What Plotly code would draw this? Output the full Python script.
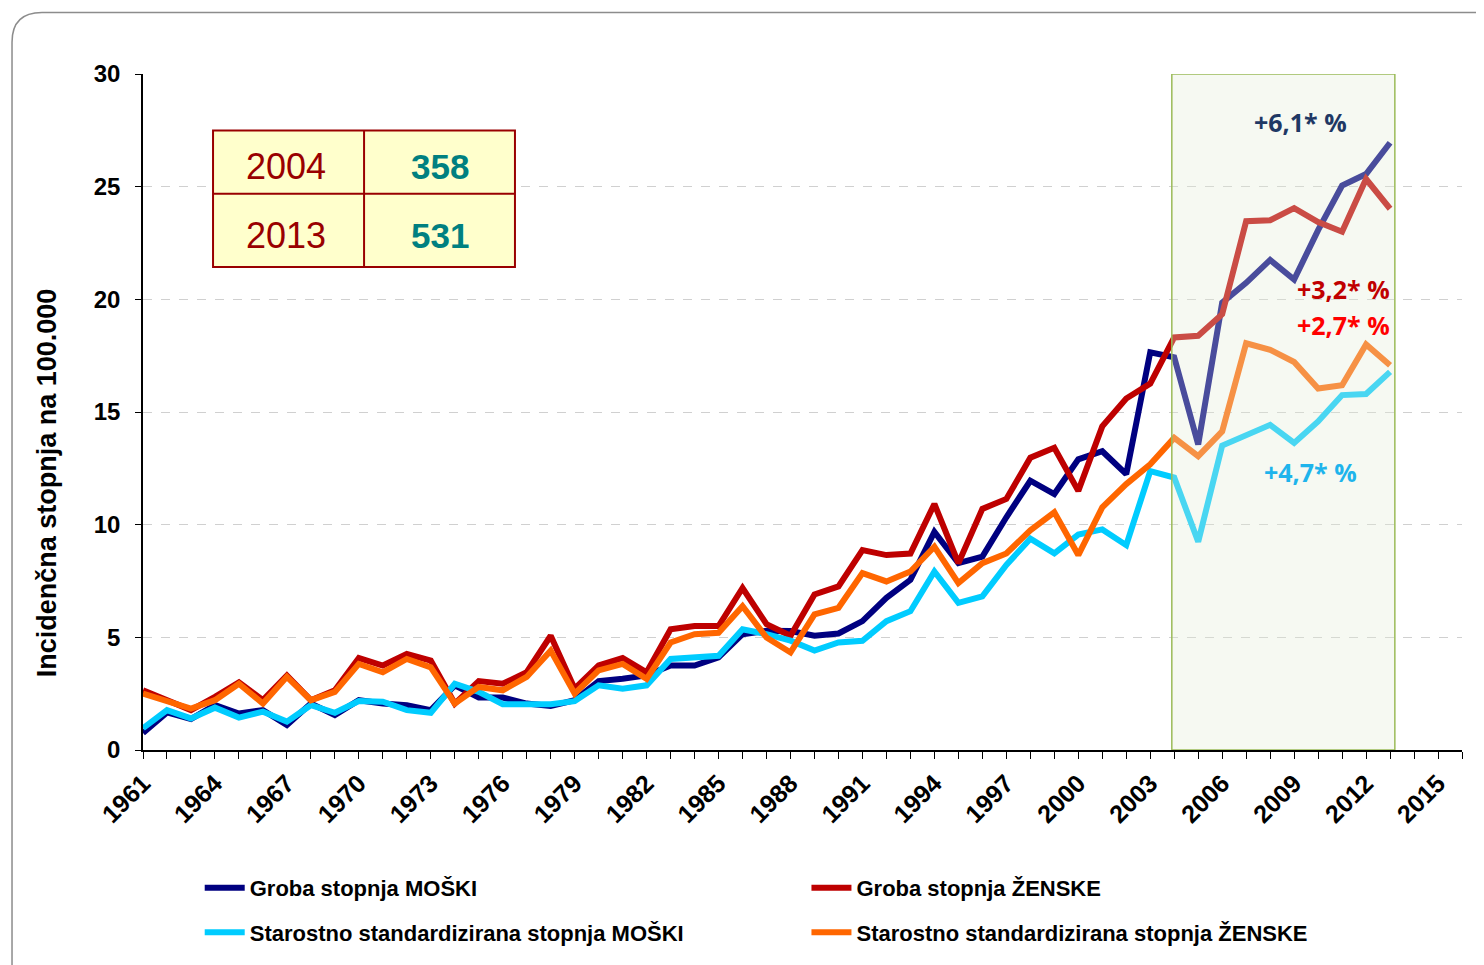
import plotly.graph_objects as go

# years 1961-2013
years = list(range(1961, 2014))

# Groba stopnja MOŠKI
crude_men = [0.75, 1.67, 1.37, 1.99, 1.62, 1.77, 1.11, 2.06, 1.55, 2.21, 2.06, 1.99, 1.77,
             2.87, 2.33, 2.33, 2.06, 1.95, 2.21, 3.06, 3.16, 3.31, 3.75, 3.75, 4.11, 5.14,
             5.29, 5.28, 5.07, 5.17, 5.72, 6.75, 7.55, 9.68, 8.29, 8.58, 10.33, 11.95, 11.36,
             12.9, 13.26, 12.24, 17.65, 17.43, 13.56, 19.85, 20.73, 21.75, 20.88, 23.07,
             25.05, 25.56, 26.95]
# Groba stopnja ŽENSKE
crude_women = [2.65, 2.21, 1.77, 2.36, 3.0, 2.21, 3.3, 2.21, 2.65, 4.08, 3.75, 4.26, 3.97,
               2.06, 3.06, 2.94, 3.45, 5.07, 2.72, 3.75, 4.08, 3.45, 5.36, 5.5, 5.5, 7.19,
               5.58, 5.07, 6.9, 7.26, 8.87, 8.65, 8.72, 10.92, 8.29, 10.7, 11.14, 12.97, 13.41,
               11.5, 14.36, 15.6, 16.26, 18.31, 18.38, 19.34, 23.47, 23.51, 24.05, 23.43,
               23.0, 25.34, 24.02]
# Starostno standardizirana stopnja MOŠKI
std_men = [0.97, 1.77, 1.4, 1.88, 1.44, 1.7, 1.26, 1.99, 1.65, 2.17, 2.14, 1.77, 1.65,
           2.94, 2.58, 2.03, 2.03, 2.03, 2.17, 2.87, 2.72, 2.87, 4.04, 4.11, 4.18, 5.36,
           5.14, 4.85, 4.41, 4.77, 4.85, 5.72, 6.16, 7.92, 6.53, 6.82, 8.21, 9.38, 8.73,
           9.56, 9.79, 9.09, 12.38, 12.09, 9.24, 13.51, 14.0, 14.43, 13.63, 14.58,
           15.75, 15.8, 16.78]
# Starostno standardizirana stopnja ŽENSKE
std_women = [2.5, 2.14, 1.84, 2.21, 2.94, 2.06, 3.25, 2.21, 2.58, 3.82, 3.45, 4.04, 3.67,
             2.06, 2.8, 2.65, 3.24, 4.41, 2.5, 3.53, 3.82, 3.16, 4.77, 5.14, 5.2, 6.38,
             4.99, 4.33, 6.02, 6.31, 7.85, 7.48, 7.92, 9.02, 7.41, 8.29, 8.72, 9.75, 10.55,
             8.65, 10.77, 11.8, 12.68, 13.85, 13.04, 14.14, 18.05, 17.76, 17.22, 16.04,
             16.19, 18.0, 17.07]

series_names = ["Groba stopnja MOŠKI", "Groba stopnja ŽENSKE",
                "Starostno standardizirana stopnja MOŠKI", "Starostno standardizirana stopnja ŽENSKE"]
series_values = [crude_men, crude_women, std_men, std_women]
series_colors = ["#000080", "#BE0000", "#00CCFF", "#FF6600"]
legend_ids = ["legend", "legend2", "legend3", "legend4"]
# legend slots: (x, y) in paper coords, 2 x 2 grid under the chart
legend_pos = [(0.043, -0.204), (0.503, -0.204), (0.043, -0.270), (0.503, -0.270)]

# inset table
table_years = ["2004", "2013"]
table_counts = ["358", "531"]

# trend labels
trend_labels = ["+6,1* %", "+3,2* %", "+2,7* %", "+4,7* %"]
trend_colors = ["#1F3864", "#C00000", "#FF0000", "#1EB4EC"]
trend_x = [2009.25, 2011.05, 2011.05, 2009.67]
trend_y = [27.85, 20.45, 18.85, 12.35]

fig = go.Figure()

for name, vals, col, lg in zip(series_names, series_values, series_colors, legend_ids):
    fig.add_trace(go.Scatter(x=years, y=vals, name=name, mode="lines",
                             line=dict(color=col, width=6), legend=lg))

# highlighted period 2004-2013
fig.add_shape(type="rect", xref="x", yref="y", x0=2003.9, x1=2013.2, y0=0, y1=30,
              fillcolor="rgba(228,236,216,0.32)", line=dict(color="#9BBB59", width=1.5),
              layer="above")

for t, c, x, y in zip(trend_labels, trend_colors, trend_x, trend_y):
    fig.add_annotation(x=x, y=y, xref="x", yref="y", text="<b>%s</b>" % t, showarrow=False,
                       xanchor="center", yanchor="middle",
                       font=dict(family="Open Sans, Arial", size=25, color=c))

# table in the upper left
tx0, tx1, txm = 0.0531, 0.282, 0.1676
ty0, ty1, tym = 0.7145, 0.9166, 0.8229
fig.add_shape(type="rect", xref="paper", yref="paper", x0=tx0, x1=tx1, y0=ty0, y1=ty1,
              fillcolor="#FFFFCC", line=dict(color="#990000", width=2), layer="above")
fig.add_shape(type="line", xref="paper", yref="paper", x0=txm, x1=txm, y0=ty0, y1=ty1,
              line=dict(color="#990000", width=2), layer="above")
fig.add_shape(type="line", xref="paper", yref="paper", x0=tx0, x1=tx1, y0=tym, y1=tym,
              line=dict(color="#990000", width=2), layer="above")
row_y = [(ty1 + tym) / 2 - 0.007, (tym + ty0) / 2 - 0.007]
for ry, yr, cnt in zip(row_y, table_years, table_counts):
    fig.add_annotation(x=(tx0 + txm) / 2 - 0.002, y=ry, xref="paper", yref="paper", text=yr,
                       showarrow=False, xanchor="center", yanchor="middle",
                       font=dict(family="Arial, Liberation Sans", size=36, color="#990000"))
    fig.add_annotation(x=(txm + tx1) / 2, y=ry, xref="paper", yref="paper", text="<b>%s</b>" % cnt,
                       showarrow=False, xanchor="center", yanchor="middle",
                       font=dict(family="Arial, Liberation Sans", size=35, color="#008080"))

# y axis title, placed like on the slide (a bit below the middle)
fig.add_annotation(x=-0.0725, y=0.395, xref="paper", yref="paper", textangle=-90,
                   text="Incidenčna stopnja na 100.000", showarrow=False,
                   xanchor="center", yanchor="middle",
                   font=dict(family="Arial, Liberation Sans", size=27, color="#000000",
                             weight="bold"))

# rounded slide frame
fig.add_shape(type="path", xref="paper", yref="paper",
              path="M -0.0993,-0.4 L -0.0993,1.047 Q -0.0993,1.0908 -0.0766,1.0908 L 1.05,1.0908",
              line=dict(color="#8C8C8C", width=1.5))

legend_font = dict(family="Liberation Sans, Arial", size=22, color="#000000", weight="bold")
legends = {}
for lg, (lx, ly) in zip(legend_ids, legend_pos):
    legends[lg] = dict(x=lx, y=ly, xanchor="left", yanchor="middle", orientation="h",
                       font=legend_font, bgcolor="rgba(0,0,0,0)", itemwidth=40)

fig.update_layout(
    width=1476, height=957,
    margin=dict(l=135, r=22, t=66, b=208),
    paper_bgcolor="white", plot_bgcolor="white",
    showlegend=True,
    xaxis=dict(range=[1961, 2016], tickmode="linear", tick0=1961, dtick=3, tickangle=-45,
               ticks="outside", ticklen=7, tickcolor="#000000", showline=True,
               linecolor="#000000", linewidth=1.5, showgrid=False, zeroline=False,
               tickfont=dict(family="Arial, Liberation Sans", size=25, color="#000000",
                             weight="bold"),
               minor=dict(dtick=1, tick0=1961, ticks="outside", ticklen=7,
                          tickcolor="#000000", showgrid=False)),
    yaxis=dict(range=[0, 30], dtick=5, ticks="outside", ticklen=6, tickcolor="#000000",
               showline=True, linecolor="#000000", linewidth=1.5, zeroline=False,
               showgrid=True, gridcolor="#D0D0D0", griddash="dash", gridwidth=1,
               ticklabelstandoff=10,
               tickfont=dict(family="Arial, Liberation Sans", size=24, color="#000000",
                             weight="bold")),
    **legends,
)

fig.write_html("out.html")
